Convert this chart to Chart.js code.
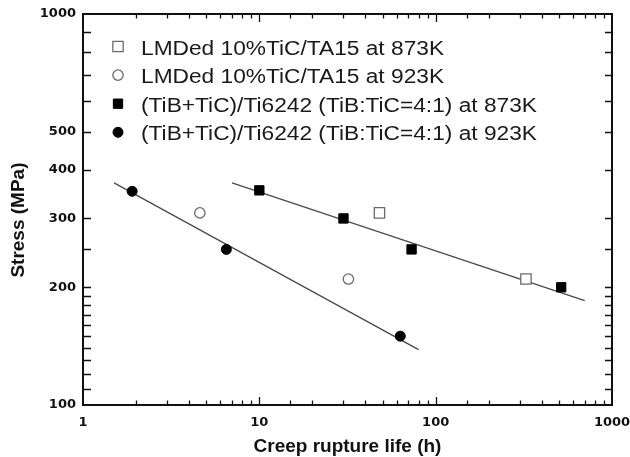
<!DOCTYPE html>
<html>
<head>
<meta charset="utf-8">
<script src="https://cdn.jsdelivr.net/npm/chart.js@4/dist/chart.umd.min.js"></script>
<style>
  html, body { margin: 0; padding: 0; background: #fff; }
  #wrap { width: 630px; height: 457px; position: relative; }
</style>
</head>
<body>
<div id="wrap"><canvas id="c" width="630" height="457"></canvas></div>
<script>
// ---- Data ----
const seriesLabels = [
  'LMDed 10%TiC/TA15 at 873K',
  'LMDed 10%TiC/TA15 at 923K',
  '(TiB+TiC)/Ti6242 (TiB:TiC=4:1) at 873K',
  '(TiB+TiC)/Ti6242 (TiB:TiC=4:1) at 923K'
];
// rupture life (h) / stress (MPa)
const lmd873Life = [48, 325];
const lmd873Stress = [310, 210];
const lmd923Life = [4.6, 32];
const lmd923Stress = [310, 210];
const ti873Life = [10, 30, 73, 515];
const ti873Stress = [354, 300, 250, 200];
const ti923Life = [1.9, 6.5, 63];
const ti923Stress = [352, 250, 150];
// fitted lines (end points)
const fit873Life = [7, 700];
const fit873Stress = [370, 185];
const fit923Life = [1.5, 80];
const fit923Stress = [370, 138.5];
// tick labels
const xTickLabels = [1, 10, 100, 1000];
const yTickLabels = [100, 200, 300, 400, 500, 1000];

const pts = (xs, ys) => xs.map((x, i) => ({ x: x, y: ys[i] }));

const markerStyles = [
  { pointStyle: 'rect', radius: 7.3, bg: '#ffffff', border: '#6a6a6a', bw: 1.3 },
  { pointStyle: 'circle', radius: 5.2, bg: '#ffffff', border: '#6a6a6a', bw: 1.3 },
  { pointStyle: 'rect', radius: 6.6, bg: '#000000', border: '#000000', bw: 1 },
  { pointStyle: 'circle', radius: 5, bg: '#000000', border: '#000000', bw: 1 }
];
const seriesData = [
  pts(lmd873Life, lmd873Stress),
  pts(lmd923Life, lmd923Stress),
  pts(ti873Life, ti873Stress),
  pts(ti923Life, ti923Stress)
];

const datasets = seriesData.map((d, i) => ({
  label: seriesLabels[i],
  data: d,
  showLine: false,
  pointStyle: markerStyles[i].pointStyle,
  pointRadius: markerStyles[i].radius,
  pointBackgroundColor: markerStyles[i].bg,
  pointBorderColor: markerStyles[i].border,
  pointBorderWidth: markerStyles[i].bw,
  order: 1
}));
[[fit873Life, fit873Stress], [fit923Life, fit923Stress]].forEach(f => {
  datasets.push({
    label: 'fit',
    data: pts(f[0], f[1]),
    showLine: true,
    pointRadius: 0,
    borderColor: '#4a4a4a',
    borderWidth: 1.3,
    fill: false,
    order: 2
  });
});

const framePlugin = {
  id: 'frame',
  afterDraw(chart) {
    const ctx = chart.ctx;
    const a = chart.chartArea;
    const xs = chart.scales.x, ys = chart.scales.y;
    ctx.save();
    ctx.strokeStyle = '#111';
    ctx.lineWidth = 1.3;
    ctx.beginPath();
    xs.ticks.forEach(t => {
      const v = t.value;
      const p = Math.round(xs.getPixelForValue(v)) + 0.5;
      if (p <= a.left + 1 || p >= a.right - 1) return;
      const lg = Math.abs(Math.log10(v) - Math.round(Math.log10(v))) < 1e-9;
      const len = lg ? 8 : 4.5;
      ctx.moveTo(p, a.bottom); ctx.lineTo(p, a.bottom - len);
      ctx.moveTo(p, a.top); ctx.lineTo(p, a.top + len);
    });
    ys.ticks.forEach(t => {
      const p = Math.round(ys.getPixelForValue(t.value)) + 0.5;
      if (p <= a.top + 1 || p >= a.bottom - 1) return;
      ctx.moveTo(a.left, p); ctx.lineTo(a.left + 8, p);
      ctx.moveTo(a.right, p); ctx.lineTo(a.right - 7, p);
    });
    ctx.stroke();
    ctx.lineWidth = 2;
    ctx.strokeRect(a.left, a.top, a.right - a.left, a.bottom - a.top);

    // legend
    const mx = a.left + 35, tx = a.left + 58;
    const base0 = a.top + 40.5, step = 28.6;
    for (let i = 0; i < 4; i++) {
      const ds = chart.data.datasets[i];
      const base = base0 + step * i;
      const cy = base - 8;
      const opt = {
        pointStyle: ds.pointStyle, radius: ds.pointRadius, rotation: 0,
        borderWidth: ds.pointBorderWidth
      };
      ctx.fillStyle = ds.pointBackgroundColor;
      ctx.strokeStyle = ds.pointBorderColor;
      ctx.lineWidth = ds.pointBorderWidth;
      if (Chart.helpers && Chart.helpers.drawPoint) {
        Chart.helpers.drawPoint(ctx, opt, mx, cy);
      } else {
        ctx.beginPath();
        if (ds.pointStyle === 'circle') ctx.arc(mx, cy, ds.pointRadius, 0, Math.PI * 2);
        else { const s = ds.pointRadius * Math.SQRT1_2; ctx.rect(mx - s, cy - s, 2 * s, 2 * s); }
        ctx.fill(); ctx.stroke();
      }
      ctx.save();
      ctx.fillStyle = '#1a1a1a';
      ctx.font = '19.5px "Liberation Sans", Arial, sans-serif';
      ctx.textBaseline = 'alphabetic';
      ctx.textAlign = 'left';
      ctx.translate(tx, base);
      ctx.scale(1.165, 1);
      ctx.fillText(ds.label, 0, 0);
      ctx.restore();
    }
    ctx.restore();
  }
};

new Chart(document.getElementById('c'), {
  type: 'scatter',
  data: { datasets: datasets },
  plugins: [framePlugin],
  options: {
    responsive: false,
    animation: false,
    events: [],
    layout: { padding: { left: 0, right: 18, top: 14, bottom: 0 } },
    plugins: { legend: { display: false }, tooltip: { enabled: false } },
    scales: {
      x: {
        type: 'logarithmic',
        min: 1, max: 1000,
        grid: { display: false, drawTicks: false },
        border: { display: false },
        afterFit(s) { s.height = 52; s.paddingLeft = 0; s.paddingRight = 0; },
        ticks: {
          autoSkip: false, maxRotation: 0, padding: 10,
          color: '#111',
          font: { family: '"DejaVu Sans"', size: 13, weight: 'bold' },
          callback: (v) => xTickLabels.includes(v) ? String(v) : ''
        },
        title: {
          display: true, text: 'Creep rupture life (h)', color: '#111',
          font: { family: '"Liberation Sans", Arial', size: 19, weight: 'bold' },
          padding: { top: 0, bottom: -1 }
        }
      },
      y: {
        type: 'logarithmic',
        min: 100, max: 1000,
        grid: { display: false, drawTicks: false },
        border: { display: false },
        afterFit(s) { s.width = 83; s.paddingTop = 0; s.paddingBottom = 0; },
        ticks: {
          autoSkip: false, padding: 7,
          color: '#111',
          font: { family: '"DejaVu Sans"', size: 13, weight: 'bold' },
          callback: (v) => yTickLabels.includes(v) ? String(v) : ''
        },
        title: {
          display: true, text: 'Stress (MPa)    ', color: '#111',
          font: { family: '"Liberation Sans", Arial', size: 19, weight: 'bold' },
          padding: { top: 7, bottom: 0 }
        }
      }
    }
  }
});
</script>
</body>
</html>
